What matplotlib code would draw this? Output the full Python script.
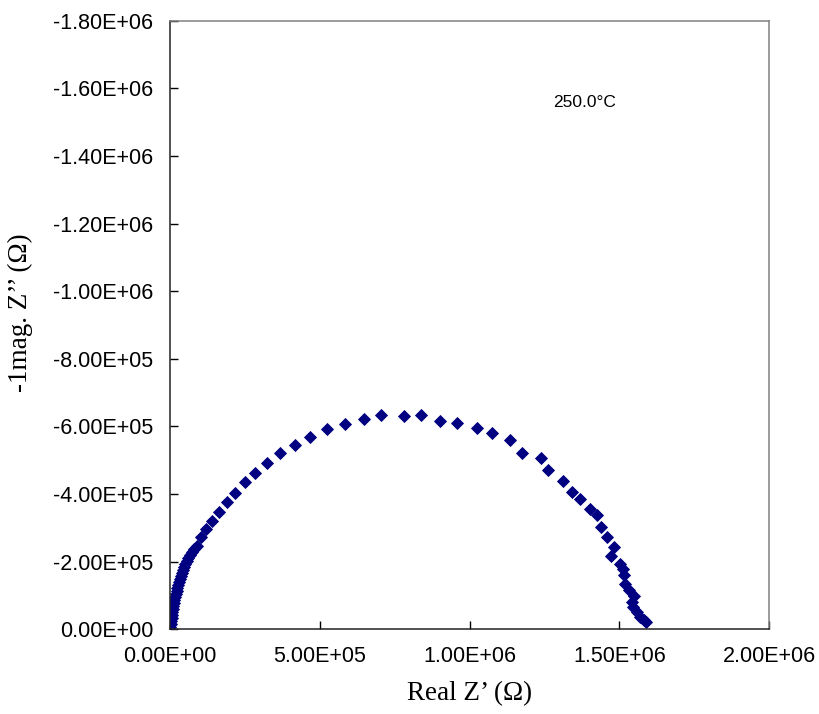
import matplotlib
matplotlib.use("Agg")
import matplotlib.pyplot as plt
from matplotlib.ticker import FuncFormatter, MultipleLocator

# Impedance spectrum (Nyquist plot) at 250.0 °C
real_z = [
    1667, 3333, 4333, 5667, 6667, 8333, 10000, 11667, 13333, 15000,
    17333, 20000, 22333, 25000, 27667, 30667, 33333, 36667, 40000, 43333,
    47333, 51667, 56667, 61667, 67667, 73333, 80000, 90000, 103333, 120000,
    139000, 162333, 189000, 216667, 249000, 284333, 322333, 367667, 416667, 468333,
    523333, 585000, 646667, 705667, 780000, 837333, 901000, 957333, 1025667, 1075667,
    1134333, 1175667, 1236667, 1262333, 1311667, 1341000, 1369333, 1400667, 1423333, 1437667,
    1459000, 1481667, 1471667, 1503333, 1512333, 1516667, 1520000, 1533333, 1548333, 1542333,
    1545667, 1559000, 1570000, 1581667, 1590000,
]
imag_z = [
    -5921, -14801, -23682, -32563, -41444, -50325, -59206, -68087, -76968, -85849,
    -94730, -103611, -112491, -121372, -130253, -139134, -148015, -156896, -165777, -174658,
    -183539, -192420, -201300, -210181, -219062, -227943, -236824, -246593, -273236, -296030,
    -320600, -347243, -375958, -403488, -434276, -462694, -492297, -521900, -545582, -569856,
    -591170, -608340, -622549, -633502, -632022, -632614, -616630, -611302, -595020, -581107,
    -559497, -521013, -506211, -471576, -439605, -407043, -385729, -355830, -337474, -301359,
    -271756, -242745, -217582, -193900, -177618, -159856, -134694, -115452, -99170, -81408,
    -65974, -51169, -37004, -28123, -20722,
]

temperature_label = "250.0°C"
x_label = "Real Z’ (Ω)"
y_label = "-1mag. Z’’ (Ω)"

fig = plt.figure(figsize=(8.2, 7.14), dpi=100)
ax = fig.add_axes([0.2073, 0.1186, 0.7309, 0.8524])

ax.plot(real_z, imag_z, linestyle="none", marker="D", markersize=6.2,
        color="#000080", markeredgecolor="#000080", markeredgewidth=0.6)

ax.set_xlim(0, 2.0e6)
ax.set_ylim(0, -1.8e6)
ax.xaxis.set_major_locator(MultipleLocator(5.0e5))
ax.yaxis.set_major_locator(MultipleLocator(2.0e5))

sci = FuncFormatter(lambda v, pos: f"{v:.2E}")
ax.xaxis.set_major_formatter(sci)
ax.yaxis.set_major_formatter(sci)

ax.tick_params(axis="both", direction="in", length=6, width=1, colors="black",
               labelsize=15.5, pad=12)
for lbl in ax.get_xticklabels() + ax.get_yticklabels():
    lbl.set_fontfamily("Liberation Sans")

for side in ("left", "bottom"):
    ax.spines[side].set_color("#222222")
    ax.spines[side].set_linewidth(1.1)
for side in ("top", "right"):
    ax.spines[side].set_color("#808080")
    ax.spines[side].set_linewidth(1.1)

ax.set_xlabel(x_label, fontfamily="Liberation Serif", fontsize=19.5)
ax.set_ylabel(y_label, fontfamily="Liberation Serif", fontsize=19.5)
ax.xaxis.set_label_coords(0.5, -0.085)
ax.yaxis.set_label_coords(-0.228, 0.52)

ax.text(0.639, 0.866, temperature_label, transform=ax.transAxes,
        fontfamily="Liberation Sans", fontsize=12.5, ha="left", va="center")

fig.savefig("out.png", dpi=100)
